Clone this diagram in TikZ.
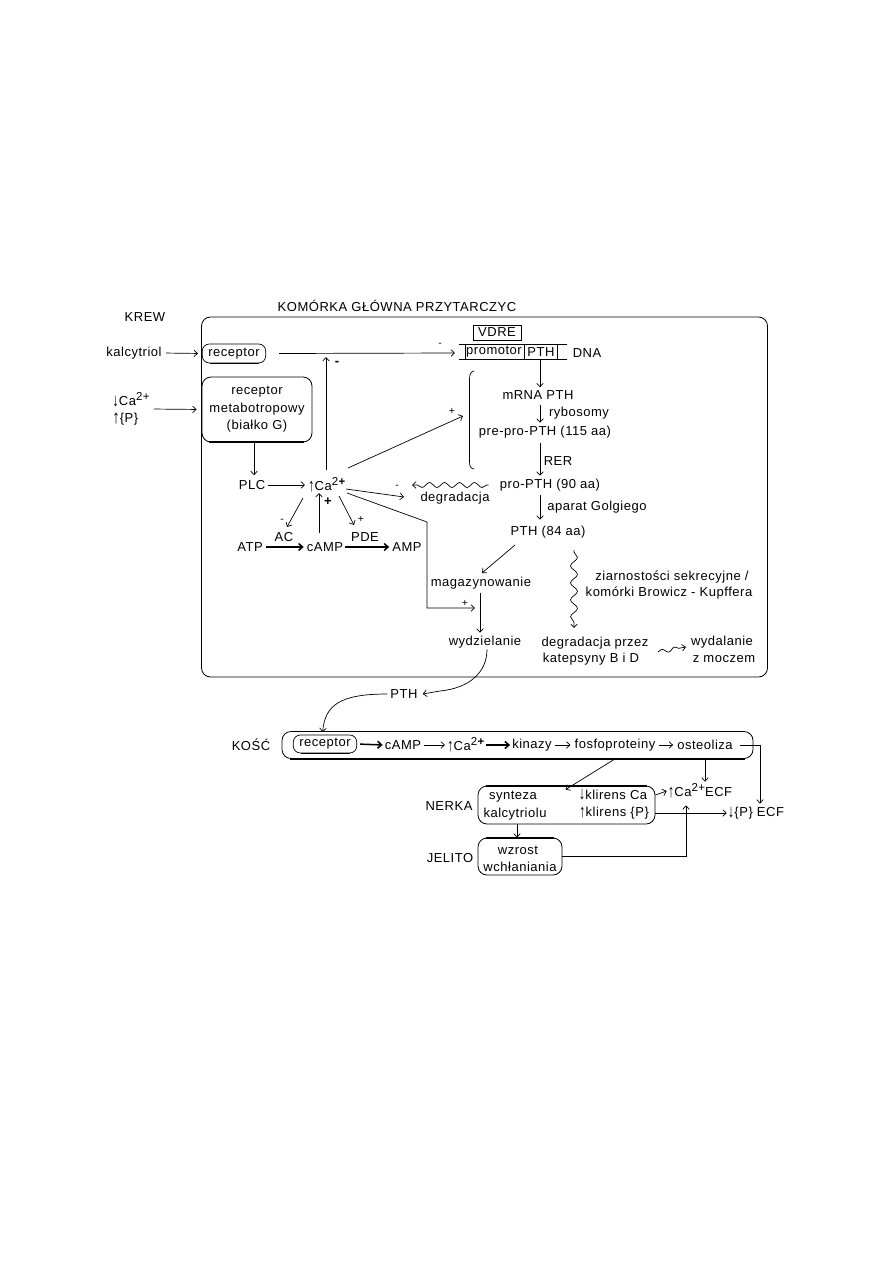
\documentclass[tikz,border=0pt]{standalone}
\usepackage{fontspec}
\setmainfont{Liberation Sans}[LetterSpace=4]
\usetikzlibrary{arrows.meta,decorations.pathmorphing}
\newcommand{\upa}{\raisebox{-0.6pt}{\scalebox{1}[1.4]{↑}}}
\newcommand{\dna}{\raisebox{-0.6pt}{\scalebox{1}[1.4]{↓}}}
\newcommand{\upb}{\raisebox{-0.6pt}{\scalebox{1.15}[1.45]{\bfseries ↑}}}
\newcommand{\cab}{Ca\raisebox{5pt}{\fontsize{11.5}{11}\selectfont 2\textbf{+}}}
\newcommand{\can}{Ca\raisebox{5pt}{\fontsize{11.5}{11}\selectfont 2+}}
\begin{document}
\begin{tikzpicture}[x=1pt,y=-1pt,
  every node/.style={inner sep=1pt, font=\fontsize{13}{17.5}\selectfont},
  ar/.style={-{Straight Barb[length=3.5pt,width=6.5pt]}, line width=0.7pt},
  tar/.style={-{Straight Barb[length=4pt,width=7pt]}, line width=1.5pt},
  ln/.style={line width=0.7pt},
  sg/.style={font=\fontsize{10.5}{10}\selectfont, inner sep=0pt},
  bsg/.style={font=\fontsize{13}{12}\selectfont\bfseries, inner sep=0pt},
  rbox/.style={draw, line width=0.7pt, rounded corners=7pt, minimum height=19pt, inner xsep=6pt, inner ysep=1pt},
  obox/.style={draw, line width=0.8pt, rounded corners=9pt, inner sep=0pt},
  wav/.style={decorate, decoration={snake, amplitude=2.5pt, segment length=15pt, pre length=2pt, post length=4pt}},
  vwav/.style={decorate, decoration={snake, amplitude=3.5pt, segment length=17pt, pre length=2pt, post length=4pt}},
]
\fill[white] (0,0) rectangle (893,1263);
\useasboundingbox (0,0) rectangle (893,1263);

% ---------- cell ----------
\node[obox, minimum width=566pt, minimum height=360pt] (cell) at (484.5,497) {};
\node (krew) at (145,317) {KREW};
\node (title) at (397,306) {KOMÓRKA GŁÓWNA PRZYTARCZYC};

% left inputs
\node (kalc) at (134,353) {kalcytriol};
\node[rbox] (rec1) at (234,353.5) {receptor};
\draw[line width=1.4pt] ([xshift=8pt]rec1.south west) -- ([xshift=-7pt]rec1.south east);
\draw[ar, shorten <=3pt, shorten >=4pt] (kalc.east) -- (rec1.west);

\node[align=left] (krewin) at (131,409) {\dna\can\\\upb\{P\}};
\node[obox, minimum width=110pt, minimum height=65pt, align=center] (mbox) at (257,409.5) {receptor\\metabotropowy\\(białko G)};
\draw[line width=2pt] ([xshift=7pt]mbox.south west) -- ([xshift=-8pt]mbox.south east);
\draw[ar, shorten <=3pt, shorten >=5pt] (krewin.east) -- (mbox.west);

% DNA
\node[draw, line width=0.7pt, minimum width=48pt, minimum height=15pt, inner sep=0pt] (vdre) at (497,332.5) {VDRE};
\node (prom) at (494,352) {promotor};
\node (pthg) at (541,352) {PTH};
\node (dnat) at (587,353) {DNA};
\coordinate (dnaL) at (455,353);
\coordinate (ax) at (540,352);
\draw[ln] (459,344) -- (567,344) (459,359.5) -- (567,359.5)
          (465,344) -- (465,359.5) (557,344) -- (557,359.5);
\draw[line width=1.4pt] (524.5,344) -- (524.5,359.5);
\draw[ar] ([xshift=13pt]rec1.east) -- (dnaL);
\node[sg] (m0) at (440,345) {-};

% synthesis chain
\node (mrna) at (538,395) {mRNA PTH};
\node (prepro) at (545,432) {pre-pro-PTH (115 aa)};
\node (propth) at (550,485) {pro-PTH (90 aa)};
\node (pth84) at (548,532) {PTH (84 aa)};
\node (ryb) at (579,413) {rybosomy};
\node (rer) at (558,461) {RER};
\node (golgi) at (597,507) {aparat Golgiego};
\draw[ar, shorten <=2pt, shorten >=2pt] (ax |- pthg.south) -- (ax |- mrna.north);
\draw[ar, shorten <=4pt, shorten >=2pt] (ax |- mrna.south) -- (ax |- prepro.north);
\draw[ar, shorten <=4pt, shorten >=2pt] (ax |- prepro.south) -- (ax |- propth.north);
\draw[ar, shorten <=3pt, shorten >=5pt] (ax |- propth.south) -- (ax |- pth84.north);

% bracket
\coordinate (brk) at (463,416);
\draw[ln] (474,371) .. controls (470,372) and (469.5,375) .. (469.5,380) -- (469.5,461) .. controls (469.5,466) and (470,468) .. (474,469);

% Ca2+ hub
\node (plc) at (252,485) {PLC};
\node (ca) at (327,485) {\upa\cab};
\draw[ar] ([xshift=-3pt]mbox.south) -- ([xshift=2pt,yshift=4pt]plc.north);
\draw[ar, shorten <=2pt, shorten >=2pt] (plc.east) -- (ca.west);
\draw[ar] ([shift={(-1,-15)}]ca.center) -- ([shift={(-1,-128)}]ca.center);
\node[bsg] (m1) at (337,363) {-};
\draw[ar] ([shift={(21,-17)}]ca.center) -- (brk);
\node[sg] (p1) at (452,411) {+};

\node (degr) at (455,498) {degradacja};
\draw[ar] ([shift={(19,4)}]ca.center) -- ([shift={(-51,-1)}]degr.center);
\node[sg] (m2) at (397,487) {-};
\draw[ar, wav] ([xshift=-10pt]propth.west) -- ([shift={(-43,-13)}]degr.center);

\node (mag) at (481,583) {magazynowanie};
\node (wydz) at (485,642) {wydzielanie};
\coordinate (c2) at (427,522);
\coordinate (c3) at (427,608);
\draw[ar] ([shift={(20,8)}]ca.center) -- (c2) -- (c3) -- ([shift={(-10,-34)}]wydz.center);
\node[sg] (p2) at (465,603) {+};
\draw[ar] ([shift={(-33,13)}]pth84.center) -- ([shift={(1,-10)}]mag.center);
\draw[ar, shorten <=3pt, shorten >=2pt] ([xshift=-1pt]mag.south) -- ([xshift=-5pt]wydz.north);

% ATP / cAMP / AMP
\node (atp) at (250,547) {ATP};
\node (camp) at (325,547) {cAMP};
\node (amp) at (407,547) {AMP};
\node (ac) at (284,537) {AC};
\node (pde) at (365,537) {PDE};
\draw[tar, shorten <=2pt, shorten >=2pt] (atp.east) -- (camp.west |- atp.east);
\draw[tar, shorten <=1pt, shorten >=2pt] (camp.east) -- (amp.west |- camp.east);
\draw[ar] ([shift={(-24,13)}]ca.center) -- ([shift={(3,-10)}]ac.center);
\node[sg] (m3) at (282,521) {-};
\draw[ar] ([shift={(-6,-14)}]camp.center) -- ([shift={(-8,8)}]ca.center);
\node[bsg] (p3) at (328,502) {+};
\draw[ar] ([shift={(12,11)}]ca.center) -- ([shift={(-11,-12)}]pde.center);
\node[sg] (p4) at (361,519) {+};

% degradation / secretion granules
\node (ziarn) at (672,577) {ziarnostości sekrecyjne /};
\node (kom) at (669,593) {komórki Browicz - Kupffera};
\node (degp1) at (595,643) {degradacja przez};
\node (degp2) at (591,659) {katepsyny B i D};
\node (wyd) at (722,642) {wydalanie};
\node (zmocz) at (724,659) {z moczem};
\coordinate (ws) at (574,550);
\draw[ar, vwav] (ws) -- ([shift={(-21,-15)}]degp1.center);
\draw[ar, decorate, decoration={snake, amplitude=2pt, segment length=13pt, post length=3pt}] ([shift={(63,9)}]degp1.center) -- ([shift={(-36,5)}]wyd.center);

% ---------- outside ----------
\node (pth2) at (404,694) {PTH};
\draw[ar] ([xshift=2pt]wydz.south) .. controls (487,672) and (470,688) .. (440,691) -- ([xshift=4pt]pth2.east);

\node (kosc) at (251,745) {KOŚĆ};
\node[obox, minimum width=471pt, minimum height=27pt] (kbox) at (517.5,745) {};
\draw[line width=2pt] ([xshift=8pt]kbox.south west) -- ([xshift=-8pt]kbox.south east);
\draw[ar] ([xshift=-2pt]pth2.west) .. controls (340,694) and (325,705) .. ([xshift=41pt,yshift=-1pt]kbox.north west);

\node[rbox, minimum height=18pt] (rec2) at (325,744) {receptor};
\draw[line width=1.4pt] ([xshift=8pt]rec2.south west) -- ([xshift=-7pt]rec2.south east);
\node (camp2) at (403,745) {cAMP};
\node (cak) at (466,745) {\upa\cab};
\node (kin) at (532,745) {kinazy};
\node (fosfo) at (615,745) {fosfoproteiny};
\node (osteo) at (705,745) {osteoliza};
\draw[tar, shorten <=3pt, shorten >=1pt] (rec2.east) -- (camp2.west);
\draw[ar, shorten <=2pt, shorten >=1pt] (camp2.east) -- (cak.west);
\draw[tar, shorten >=1pt] (cak.east) -- (kin.west);
\draw[ar, shorten <=2pt, shorten >=3pt] (kin.east) -- (fosfo.west);
\draw[ar, shorten <=2pt, shorten >=3pt] (fosfo.east) -- (osteo.west);

\node (nerka) at (449,806) {NERKA};
\node[obox, minimum width=177pt, minimum height=38pt] (nbox) at (566.5,805) {};
\draw[line width=2pt] ([xshift=8pt]nbox.north west) -- ([xshift=-8pt]nbox.north east);
\node (synt) at (513,797) {synteza};
\node (kalc2) at (515,814) {kalcytriolu};
\node (klca) at (613,795) {\dna klirens Ca};
\node (klp) at (614,813) {\upa klirens \{P\}};
\node (caecf) at (700,791) {\upa\can ECF};
\node (pecf) at (756,813) {\dna\{P\} ECF};

\node (jelito) at (450,858) {JELITO};
\node[obox, minimum width=84pt, minimum height=37pt] (jbox) at (520,856.5) {};
\draw[line width=2pt] ([xshift=8pt]jbox.north west) -- ([xshift=-8pt]jbox.north east);
\node (wzr) at (518,850) {wzrost};
\node (wch) at (520,867) {wchłaniania};

\draw[ar] ([xshift=6pt]osteo.east) -| ([xshift=4pt,yshift=2pt]pecf.north);
\draw[ar] (osteo.south |- kbox.south) -- ([yshift=1pt]osteo.south |- caecf.north);
\draw[ar] (fosfo.south |- kbox.south) -- ([shift={(-1,4)}]nbox.north);
\draw[ar] (nbox.east |- klca) -- (caecf.west);
\draw[ar] (nbox.east |- klp) -- (pecf.west);
\draw[ar] ([xshift=-49.5pt]nbox.south) -- ([xshift=-3pt]jbox.north);
\draw[ar] (jbox.east) -| ([xshift=-14pt,yshift=-6pt]caecf.south);
\end{tikzpicture}
\end{document}
